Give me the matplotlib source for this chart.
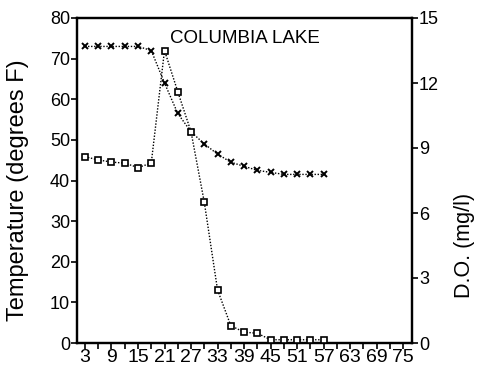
import matplotlib
matplotlib.use("Agg")
import matplotlib.pyplot as plt
from matplotlib.ticker import MultipleLocator, FixedLocator

plt.rcParams['font.family'] = ['Liberation Sans', 'DejaVu Sans']

depth = [3, 6, 9, 12, 15, 18, 21, 24, 27, 30, 33, 36, 39, 42, 45, 48, 51, 54, 57]
temperature = [73, 73, 73, 73, 73, 72, 64, 56.5, 52, 49, 46.5, 44.5, 43.5, 42.5, 42, 41.5, 41.5, 41.5, 41.5]
dissolved_oxygen = [8.6, 8.45, 8.35, 8.3, 8.1, 8.3, 13.5, 11.6, 9.75, 6.5, 2.45, 0.8, 0.5, 0.45,
                    0.15, 0.15, 0.15, 0.15, 0.15]
x_tick_labels = [3, 9, 15, 21, 27, 33, 39, 45, 51, 57, 63, 69, 75]
title = "COLUMBIA LAKE"

W, H = 484, 366
fig = plt.figure(figsize=(W / 100, H / 100), dpi=100)
left, right, top, bottom = 77, 412, 18, 343
ax = fig.add_axes([left / W, 1 - bottom / H, (right - left) / W, (bottom - top) / H])
ax2 = ax.twinx()

ax.plot(depth, temperature, color='black', linestyle=(0, (1, 1.2)), linewidth=1.0,
        marker='x', markersize=5, markeredgewidth=1.4, zorder=3)
ax2.plot(depth, dissolved_oxygen, color='black', linestyle=(0, (1, 1.2)), linewidth=1.0,
         marker='s', markersize=5, markerfacecolor='white', markeredgewidth=1.2, zorder=3)

ax.set_xlim(1.2, 77)
ax.set_ylim(0, 80)
ax2.set_ylim(0, 15)

ax.yaxis.set_major_locator(MultipleLocator(10))
ax2.yaxis.set_major_locator(MultipleLocator(3))
ax.xaxis.set_major_locator(FixedLocator(x_tick_labels))
ax.xaxis.set_minor_locator(FixedLocator([v + 3 for v in x_tick_labels[:-1]]))

for a in (ax, ax2):
    for s in a.spines.values():
        s.set_linewidth(1.6)
ax.tick_params(axis='both', which='both', direction='out', length=4, width=1.2, labelsize=13, pad=1)
ax.tick_params(axis='x', labelsize=14, pad=0)
ax2.tick_params(axis='y', direction='out', length=4, width=1.2, labelsize=13, pad=1)

ax.set_ylabel('Temperature (degrees F)', fontsize=17)
ax.yaxis.set_label_coords(-0.143, 0.47)
ax2.set_ylabel('D.O. (mg/l)', fontsize=15.5, rotation=90)
ax2.yaxis.set_label_coords(1.125, 0.30)

ax.text(22.2, 74.9, title, fontsize=13.5, va='center', ha='left')

fig.savefig('out.png', dpi=100)
